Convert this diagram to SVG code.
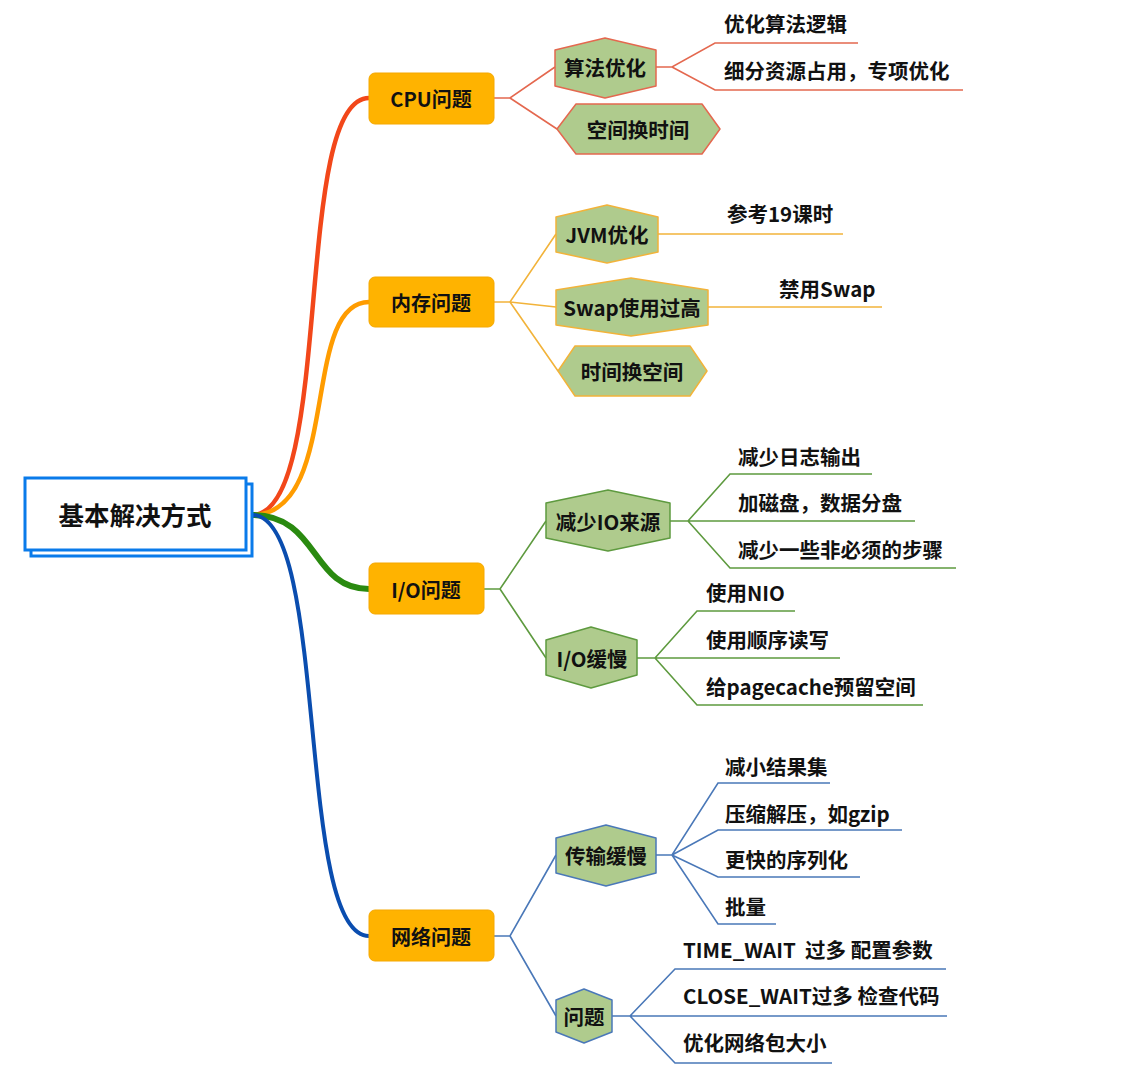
<svg xmlns="http://www.w3.org/2000/svg" width="1126" height="1071" viewBox="0 0 1126 1071">
<style>
text{font-family:"Noto Sans CJK SC","Noto Sans",sans-serif;font-weight:bold;fill:#111;dominant-baseline:central}
.t1{font-size:20px;text-anchor:middle}
.t2{font-size:20.5px;text-anchor:middle}
.leaf{font-size:20.5px}
.box{fill:#FFB300;stroke:#F5A800;stroke-width:1}
.hex{fill:#AFCB8D;stroke-width:1.5;stroke-linejoin:round}
.cR{stroke:#E4684F}.cO{stroke:#F2B33A}.cG{stroke:#5E9A3F}.cB{stroke:#4A78B8}
.ln{fill:none;stroke-width:1.6}
</style>
<rect width="1126" height="1071" fill="#fff"/>
<g id="connectors" fill="none">
  <path d="M252,515 C335,515 292,98 369,98" stroke="#F2471A" stroke-width="4.5"/>
  <path d="M252,515 C342,515 300,302 369,302" stroke="#FF9C00" stroke-width="4.5"/>
  <path d="M252,515 C320,515 310,589 369,589" stroke="#2A8A10" stroke-width="6"/>
  <path d="M252,515 C330,515 295,936 369,936" stroke="#0A4DAF" stroke-width="4"/>
  <g class="ln cR">
    <path d="M494,98 H510 L555,67 M510,98 L557,129"/>
    <path d="M656,67 H672 L715,43 H858 M672,67 L715,90 H963"/>
  </g>
  <g class="ln cO">
    <path d="M494,302 H510 L556,234 M510,302 L556,307 M510,302 L558,371"/>
    <path d="M658,234 H843"/>
    <path d="M708,307 H882"/>
  </g>
  <g class="ln cG">
    <path d="M484,589 H500 L546,521 M500,589 L546,658"/>
    <path d="M670,521 H688 L730,474 H872 M688,521 H915 M688,521 L730,568 H956"/>
    <path d="M637,658 H655 L697,611 H795 M655,658 H840 M655,658 L697,705 H923"/>
  </g>
  <g class="ln cB">
    <path d="M494,936 H510 L556,855 M510,936 L556,1016"/>
    <path d="M656,855 H672 L718,783 H830 M672,855 L718,830 H902 M672,855 L718,877 H860 M672,855 L718,924 H776"/>
    <path d="M612,1016 H630 L675,969 H946 M630,1016 H947 M630,1016 L675,1063 H832"/>
  </g>
</g>
<g id="root">
  <rect x="31" y="484" width="221" height="72" fill="#fff" stroke="#0A7BEA" stroke-width="3"/>
  <rect x="25" y="478" width="221" height="72" fill="#fff" stroke="#0A7BEA" stroke-width="3"/>
  <text x="135" y="513" style="font-size:25.5px;text-anchor:middle">基本解决方式</text>
</g>
<g id="cpu">
  <rect class="box" x="369" y="73" width="125" height="51" rx="6"/>
  <text class="t1" x="431" y="98">CPU问题</text>
</g>
<g id="mem">
  <rect class="box" x="369" y="277" width="125" height="50" rx="6"/>
  <text class="t1" x="431" y="302">内存问题</text>
</g>
<g id="io">
  <rect class="box" x="369" y="563" width="115" height="51" rx="6"/>
  <text class="t1" x="426" y="589">I/O问题</text>
</g>
<g id="net">
  <rect class="box" x="369" y="910" width="125" height="51" rx="6"/>
  <text class="t1" x="431" y="936">网络问题</text>
</g>
<g id="suanfa">
  <path class="hex cR" d="M555,50 L605,38 L656,50 V86 L605,98 L555,86 Z"/>
  <text class="t2" x="605" y="67">算法优化</text>
</g>
<g id="kongjian">
  <path class="hex cR" d="M557,129 L576,104 H702 L720,129 L702,154 H576 Z"/>
  <text class="t2" x="638" y="129">空间换时间</text>
</g>
<g id="jvm">
  <path class="hex cO" d="M556,217 L607,205 L658,217 V252 L607,263 L556,252 Z"/>
  <text class="t2" x="607" y="234">JVM优化</text>
</g>
<g id="swap">
  <path class="hex cO" d="M556,290 L631,278 L708,290 V325 L631,336 L556,325 Z"/>
  <text class="t2" x="632" y="307">Swap使用过高</text>
</g>
<g id="shijian">
  <path class="hex cO" d="M558,371 L575,346 H690 L707,371 L690,396 H575 Z"/>
  <text class="t2" x="632" y="371">时间换空间</text>
</g>
<g id="jianshao">
  <path class="hex cG" d="M546,503 L608,490 L670,503 V538 L608,551 L546,538 Z"/>
  <text class="t2" x="608" y="521">减少IO来源</text>
</g>
<g id="iohuan">
  <path class="hex cG" d="M546,640 L591,627 L637,640 V675 L591,688 L546,675 Z"/>
  <text class="t2" x="592" y="658">I/O缓慢</text>
</g>
<g id="chuanshu">
  <path class="hex cB" d="M556,838 L606,825 L656,838 V873 L606,886 L556,873 Z"/>
  <text class="t2" x="606" y="855">传输缓慢</text>
</g>
<g id="wenti">
  <path class="hex cB" d="M556,1000 L584,989 L612,1000 V1032 L584,1043 L556,1032 Z"/>
  <text class="t2" x="584" y="1016">问题</text>
</g>
<g id="leaves">
  <text class="leaf" x="724" y="23">优化算法逻辑</text>
  <text class="leaf" x="724" y="70">细分资源占用，专项优化</text>
  <text class="leaf" x="727" y="213">参考19课时</text>
  <text class="leaf" x="779" y="288">禁用Swap</text>
  <text class="leaf" x="738" y="456">减少日志输出</text>
  <text class="leaf" x="738" y="502">加磁盘，数据分盘</text>
  <text class="leaf" x="738" y="549">减少一些非必须的步骤</text>
  <text class="leaf" x="706" y="592">使用NIO</text>
  <text class="leaf" x="706" y="639">使用顺序读写</text>
  <text class="leaf" x="706" y="686">给pagecache预留空间</text>
  <text class="leaf" x="725" y="766">减小结果集</text>
  <text class="leaf" x="725" y="813">压缩解压，如gzip</text>
  <text class="leaf" x="725" y="859">更快的序列化</text>
  <text class="leaf" x="725" y="906">批量</text>
  <text class="leaf" x="683" y="949" xml:space="preserve">TIME_WAIT  过多 配置参数</text>
  <text class="leaf" x="683" y="995">CLOSE_WAIT过多 检查代码</text>
  <text class="leaf" x="683" y="1042">优化网络包大小</text>
</g>
</svg>
